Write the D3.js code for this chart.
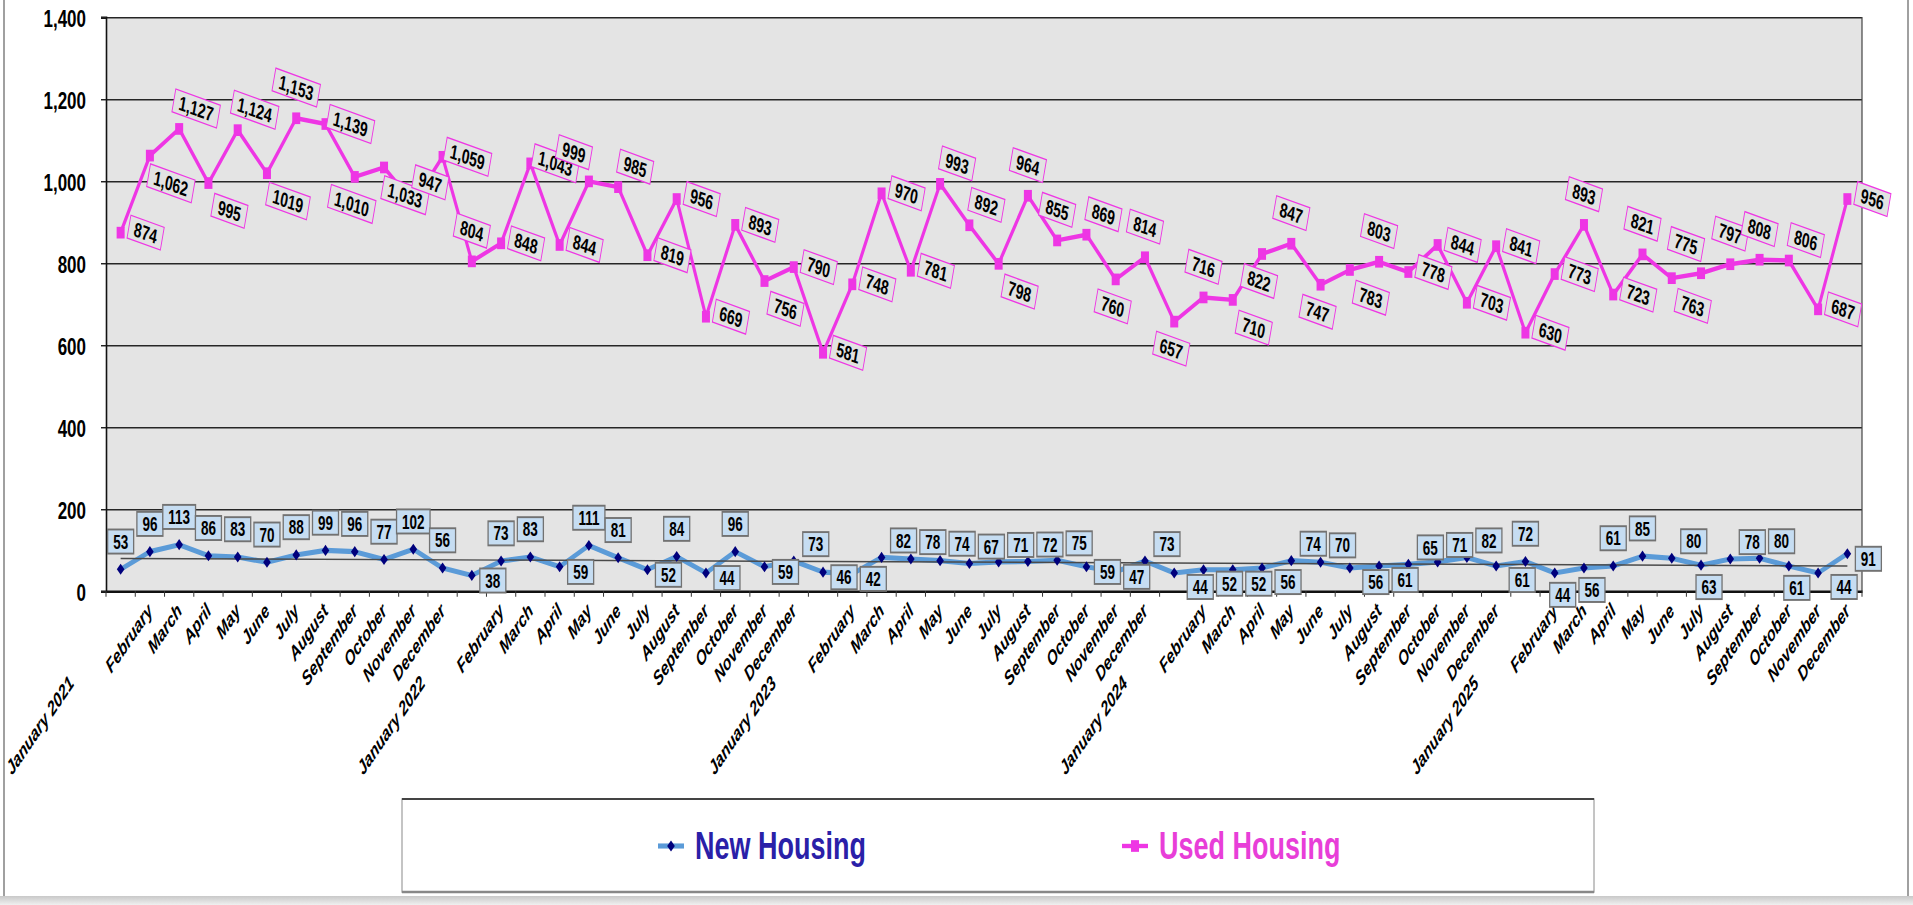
<!DOCTYPE html>
<html>
<head>
<meta charset="utf-8">
<script src="https://cdn.jsdelivr.net/npm/d3@7"></script>
<style>
  html, body { margin: 0; padding: 0; background: #fff; }
  svg { display: block; }
  text { font-family: "Liberation Sans", Arial, Helvetica, sans-serif; font-weight: bold; }
</style>
</head>
<body>
<svg id="chart" width="1913" height="905"></svg>
<script>
// ---------------- DATA ----------------
const months = [
  "January 2021","February","March","April","May","June","July","August","September","October","November","December",
  "January 2022","February","March","April","May","June","July","August","September","October","November","December",
  "January 2023","February","March","April","May","June","July","August","September","October","November","December",
  "January 2024","February","March","April","May","June","July","August","September","October","November","December",
  "January 2025","February","March","April","May","June","July","August","September","October","November","December"
];
const newHousing = [
  53, 96, 113, 86, 83, 70, 88, 99, 96, 77, 102, 56,
  38, 73, 83, 59, 111, 81, 52, 84, 44, 96, 59, 73,
  46, 42, 82, 78, 74, 67, 71, 72, 75, 59, 47, 73,
  44, 52, 52, 56, 74, 70, 56, 61, 65, 71, 82, 61,
  72, 44, 56, 61, 85, 80, 63, 78, 80, 61, 44, 91
];
const usedHousing = [
  874, 1062, 1127, 995, 1124, 1019, 1153, 1139, 1010, 1033, 947, 1059,
  804, 848, 1043, 844, 999, 985, 819, 956, 669, 893, 756, 790,
  581, 748, 970, 781, 993, 892, 798, 964, 855, 869, 760, 814,
  657, 716, 710, 822, 847, 747, 783, 803, 778, 844, 703, 841,
  630, 773, 893, 723, 821, 763, 775, 797, 808, 806, 687, 956
];
const yTicks = [0, 200, 400, 600, 800, 1000, 1200, 1400];
const seriesNames = ["New Housing", "Used Housing"];

// label placement codes (where each data label sits relative to its point)
const newLabelPos = [
  "A","A","A","A","A","A","A","A","A","A","A","A",
  "R","A","A","R","A","A","R","A","R","A","R","AR",
  "R","R","AR","AR","AR","AR","AR","AR","AR","R","R","AR",
  "BR","BR","BR","BR","AR","AR","BR","BR","AR","AR","AR","BR",
  "A","B","B","A","A","AR","B","AR","AR","B","BR","R"
];
const usedLabelPos = [
  "R","BR","AR","BR","AR","BR","A","R","B","BR","AR","R",
  "A","R","R","R","AL","AR","R","R","R","R","BR","R",
  "R","R","R","R","AR","AR","BR","A","A","AR","B","A",
  "B","A","BR","B","A","B","BR","A","R","R","R","R",
  "R","R","A","R","A","BR","AL","A","A","AR","R","R"
];
// label shown without thousands separator in the source
const plainLabelIdx = new Set([5]);

// ---------------- LAYOUT ----------------
const S = 1.46;                 // vertical stretch of the whole drawing
const W = 1913, H = 905;
const plot = { left: 106, right: 1862, top: 17 / S, bottom: 591 / S };

const colNewLine = "#5b9bd8", colNewMark = "#00007c";
const colUsed = "#ee36e4";
const colNewText = "#2a20a8", colUsedText = "#e83ed8";

const svg = d3.select("#chart");

// outer frame (final coordinates)
svg.append("rect").attr("x", 0).attr("y", 0).attr("width", W).attr("height", H).attr("fill", "#fff");
svg.append("line").attr("x1", 4).attr("x2", 4).attr("y1", 0).attr("y2", 897).attr("stroke", "#a0a0a0").attr("stroke-width", 2);
svg.append("line").attr("x1", 1908).attr("x2", 1908).attr("y1", 0).attr("y2", 897).attr("stroke", "#a0a0a0").attr("stroke-width", 2);
const grad = svg.append("defs").append("linearGradient").attr("id", "band").attr("x1", 0).attr("x2", 0).attr("y1", 0).attr("y2", 1);
grad.append("stop").attr("offset", "0%").attr("stop-color", "#c8c8c8");
grad.append("stop").attr("offset", "100%").attr("stop-color", "#f0f0f0");
svg.append("rect").attr("x", 0).attr("y", 896).attr("width", W).attr("height", 9).attr("fill", "url(#band)");

const g = svg.append("g").attr("transform", `scale(1,${S})`);

const x = d3.scaleBand().domain(d3.range(months.length)).range([plot.left, plot.right]);
const cx = i => x(i) + x.bandwidth() / 2;
const y = d3.scaleLinear().domain([0, 1400]).range([plot.bottom, plot.top]);

// plot background
g.append("rect")
  .attr("x", plot.left).attr("y", plot.top)
  .attr("width", plot.right - plot.left).attr("height", plot.bottom - plot.top)
  .attr("fill", "#e4e4e4");

// gridlines
g.append("g")
  .attr("transform", `translate(${plot.left},0)`)
  .call(d3.axisLeft(y).tickValues(yTicks).tickSize(-(plot.right - plot.left)).tickFormat(""))
  .call(a => a.select(".domain").remove())
  .selectAll("line").attr("stroke", "#262626").attr("stroke-width", 1);

// right border
g.append("line").attr("x1", plot.right).attr("x2", plot.right)
  .attr("y1", plot.top).attr("y2", plot.bottom).attr("stroke", "#444").attr("stroke-width", 1.2);

// y axis
const yAxis = g.append("g")
  .attr("transform", `translate(${plot.left},0)`)
  .call(d3.axisLeft(y).tickValues(yTicks).tickSize(5).tickPadding(15).tickFormat(d3.format(",")));
yAxis.select(".domain").attr("stroke", "#111").attr("stroke-width", 1.6);
yAxis.selectAll(".tick line").attr("stroke", "#222").attr("stroke-width", 1);
yAxis.selectAll(".tick text").attr("fill", "#000").style("font-size", "17px").attr("dy", "0.36em");

// x axis (labels)
const xAxis = g.append("g")
  .attr("transform", `translate(0,${plot.bottom})`)
  .call(d3.axisBottom(x).tickSize(0).tickFormat(i => months[i]));
xAxis.select(".domain").attr("stroke", "#111").attr("stroke-width", 1.6);
xAxis.selectAll(".tick text")
  .attr("fill", "#000")
  .attr("y", null).attr("dy", "0.36em")
  .attr("text-anchor", "end")
  .style("font-size", "14px").style("font-style", "italic")
  .attr("transform", i => `translate(0,11) rotate(-45)` + (months[i].startsWith("January") ? " translate(-70,0)" : ""));

// x axis boundary ticks
g.append("g").selectAll("line")
  .data(d3.range(months.length + 1))
  .join("line")
  .attr("x1", i => plot.left + i * x.step()).attr("x2", i => plot.left + i * x.step())
  .attr("y1", plot.bottom).attr("y2", plot.bottom + 4)
  .attr("stroke", "#333").attr("stroke-width", 1);

// ---------------- SERIES ----------------
const line = d3.line().x((d, i) => cx(i)).y(d => y(d));

// New housing line
g.append("path").datum(newHousing)
  .attr("d", line).attr("fill", "none")
  .attr("stroke", colNewLine).attr("stroke-width", 3.5).attr("stroke-linejoin", "round");

// linear trend line of New Housing
(function () {
  const n = newHousing.length;
  const mx = d3.mean(d3.range(n)), my = d3.mean(newHousing);
  let num = 0, den = 0;
  newHousing.forEach((v, i) => { num += (i - mx) * (v - my); den += (i - mx) * (i - mx); });
  const b = num / den, a = my - b * mx;
  g.append("line")
    .attr("x1", cx(0)).attr("y1", y(a))
    .attr("x2", cx(n - 1)).attr("y2", y(a + b * (n - 1)))
    .attr("stroke", "#4a4a4a").attr("stroke-width", 1);
})();

// Used housing line
g.append("path").datum(usedHousing)
  .attr("d", line).attr("fill", "none")
  .attr("stroke", colUsed).attr("stroke-width", 3).attr("stroke-linejoin", "round");

// markers
const diamond = "M0,-3.8L3.8,0L0,3.8L-3.8,0Z";
g.append("g").selectAll("path").data(newHousing).join("path")
  .attr("d", diamond).attr("transform", (d, i) => `translate(${cx(i)},${y(d)})`)
  .attr("fill", colNewMark);
g.append("g").selectAll("rect").data(usedHousing).join("rect")
  .attr("x", (d, i) => cx(i) - 4).attr("y", d => y(d) - 4)
  .attr("width", 8).attr("height", 8).attr("fill", colUsed);

// ---------------- DATA LABELS ----------------
const newOff = { A: [0, -19], R: [21, 3.5], AR: [22, -11.6], BR: [26, 9.6], B: [8, 15] };
const usedOff = { R: [25, 0], BR: [21, 19], AR: [17, -14], A: [0, -21], B: [-3, 18.5], AL: [-15, -20] };
const fmt = d3.format(",");

g.append("g").selectAll("g").data(newHousing).join("g")
  .attr("transform", (d, i) => { const o = newOff[newLabelPos[i]]; return `translate(${cx(i) + o[0]},${y(d) + o[1]})`; })
  .each(function (d) {
    const gg = d3.select(this);
    const r = gg.append("rect");
    const t = gg.append("text").attr("text-anchor", "middle").attr("dy", "0.36em")
      .style("font-size", "13.5px").attr("fill", "#000").text(fmt(d));
    const w = t.node().getComputedTextLength() + 11;
    r.attr("x", -w / 2).attr("y", -8.25).attr("width", w).attr("height", 16.5)
      .attr("fill", "#c6ddf2").attr("stroke", "#727272").attr("stroke-width", 1.3);
  });

g.append("g").selectAll("g").data(usedHousing).join("g")
  .attr("transform", (d, i) => { const o = usedOff[usedLabelPos[i]]; return `translate(${cx(i) + o[0]},${y(d) + o[1]}) rotate(14)`; })
  .each(function (d, i) {
    const gg = d3.select(this);
    const r = gg.append("rect");
    const t = gg.append("text").attr("text-anchor", "middle").attr("dy", "0.36em")
      .style("font-size", "14px").attr("fill", "#000").text(plainLabelIdx.has(i) ? String(d) : fmt(d));
    const w = t.node().getComputedTextLength() + 11;
    r.attr("x", -w / 2).attr("y", -8).attr("width", w).attr("height", 16)
      .attr("fill", "#e2e2e2").attr("stroke", colUsed).attr("stroke-width", 0.9);
  });

// ---------------- LEGEND ----------------
const lg = g.append("g");
lg.append("rect").attr("x", 402).attr("y", 799 / S).attr("width", 1192).attr("height", (892 - 799) / S)
  .attr("fill", "#fff").attr("stroke", "#8a8a8a").attr("stroke-width", 1);
lg.append("line").attr("x1", 402).attr("x2", 1594).attr("y1", 799 / S).attr("y2", 799 / S).attr("stroke", "#444").attr("stroke-width", 1.2);
lg.append("line").attr("x1", 402).attr("x2", 1594).attr("y1", 892 / S).attr("y2", 892 / S).attr("stroke", "#888").attr("stroke-width", 1.6);

const legendItems = [
  { name: seriesNames[0], lx: 658, tx: 695, line: colNewLine, lw: 3.5, text: colNewText, mark: "diamond" },
  { name: seriesNames[1], lx: 1122, tx: 1159, line: colUsed, lw: 3, text: colUsedText, mark: "square" }
];
const ly = 846 / S, lty = 859 / S;
legendItems.forEach(it => {
  lg.append("line").attr("x1", it.lx).attr("x2", it.lx + 26).attr("y1", ly).attr("y2", ly)
    .attr("stroke", it.line).attr("stroke-width", it.lw);
  if (it.mark === "diamond") {
    lg.append("path").attr("d", diamond).attr("transform", `translate(${it.lx + 13},${ly})`).attr("fill", colNewMark);
  } else {
    lg.append("rect").attr("x", it.lx + 9).attr("y", ly - 4).attr("width", 8).attr("height", 8).attr("fill", colUsed);
  }
  lg.append("text").attr("x", it.tx).attr("y", lty).style("font-size", "27px").attr("fill", it.text).text(it.name);
});
</script>
</body>
</html>
